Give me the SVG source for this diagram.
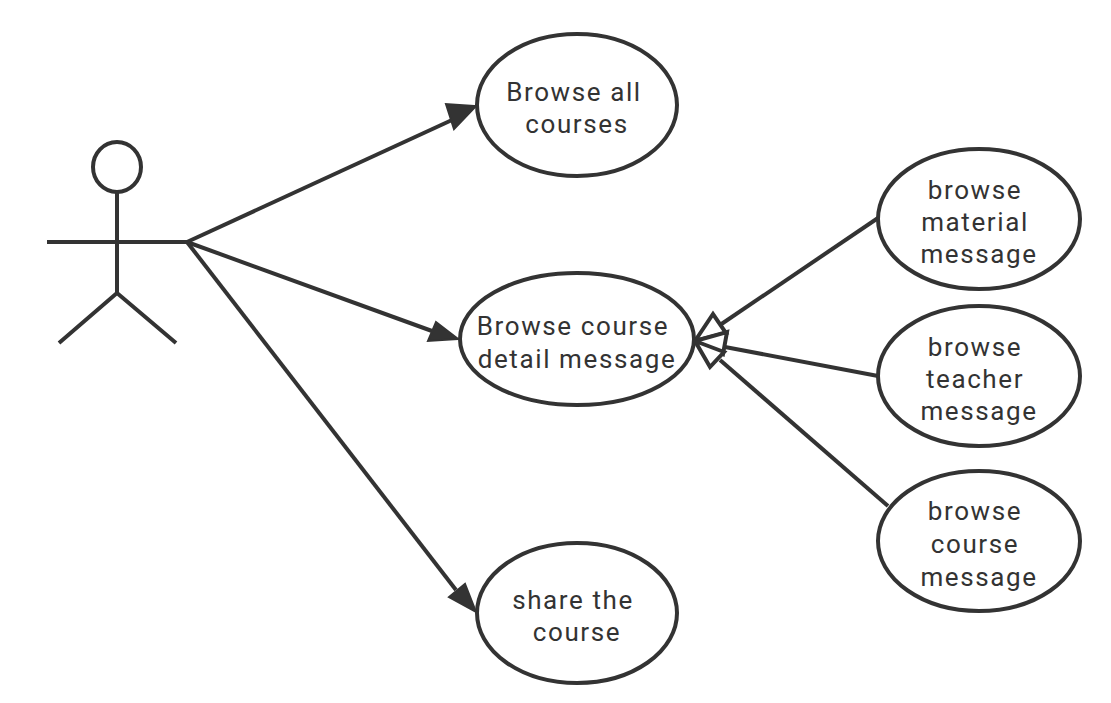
<svg xmlns="http://www.w3.org/2000/svg" width="1111" height="703" viewBox="0 0 1111 703">
<style>
.s{fill:#fff;stroke:#333;stroke-width:4}
.l{fill:none;stroke:#333;stroke-width:4}
.a{fill:#333;stroke:#333;stroke-width:2;stroke-linejoin:miter}
.o{fill:#fff;stroke:#333;stroke-width:4;stroke-linejoin:miter}
text{font-family:Roboto,"Open Sans","DejaVu Sans",sans-serif;font-size:26px;fill:#333;text-anchor:middle;letter-spacing:1.6px}
</style>
<rect width="1111" height="703" fill="#fff"/>
<g id="connectors">
<path class="l" d="M187 242L452 120"/><path class="a" d="M476 106L454 129L446 104Z"/>
<path class="l" d="M187 242L432 331"/><path class="a" d="M458 339L428 341L436 322Z"/>
<path class="l" d="M187 242L456 590"/><path class="a" d="M476 612L449 597L465 584Z"/>
<path class="l" d="M878 218L720 325"/><path class="o" d="M695 341L713 314L726 333Z"/>
<path class="l" d="M878 376L725 347"/><path class="o" d="M695 341L727 332L723 354Z"/>
<path class="l" d="M888 506L720 360"/><path class="o" d="M695 341L724 352L710 367Z"/>
</g>
<g id="actor">
<ellipse class="s" cx="117" cy="167" rx="24" ry="25"/>
<path class="l" d="M117 192V293M47 242H187M117 293L59 343M117 293L176 343"/>
</g>
<g id="browse-all"><ellipse class="s" cx="577" cy="105" rx="100" ry="71"/><text x="574" y="101">Browse all</text><text x="577" y="133">courses</text></g>
<g id="browse-detail"><ellipse class="s" cx="577" cy="339" rx="117" ry="66"/><text x="573" y="335">Browse course</text><text x="577" y="368">detail message</text></g>
<g id="share"><ellipse class="s" cx="577" cy="613" rx="100" ry="70"/><text x="573" y="609">share the</text><text x="577" y="641">course</text></g>
<g id="material"><ellipse class="s" cx="979" cy="219" rx="101" ry="70"/><text x="975" y="199">browse</text><text x="975" y="231">material</text><text x="979" y="263">message</text></g>
<g id="teacher"><ellipse class="s" cx="979" cy="376" rx="101" ry="70"/><text x="975" y="356">browse</text><text x="975" y="388">teacher</text><text x="979" y="420">message</text></g>
<g id="course"><ellipse class="s" cx="979" cy="541" rx="101" ry="70"/><text x="975" y="520">browse</text><text x="975" y="553">course</text><text x="979" y="586">message</text></g>
</svg>
